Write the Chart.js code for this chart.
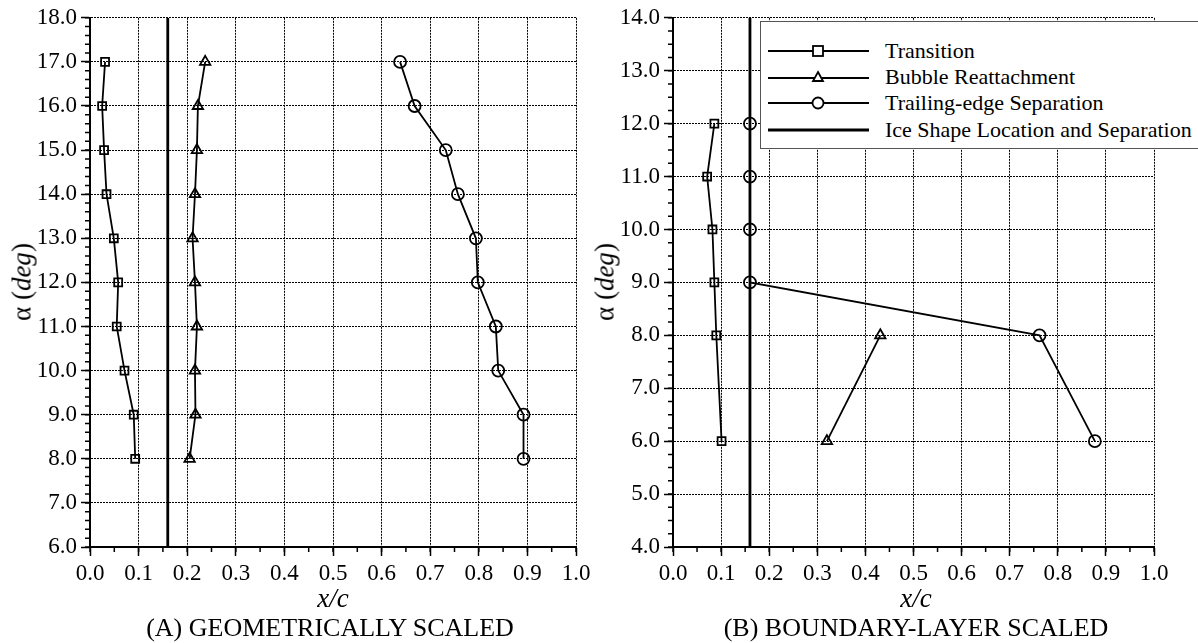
<!DOCTYPE html>
<html>
<head>
<meta charset="utf-8">
<script src="https://cdn.jsdelivr.net/npm/chart.js"></script>
<style>
  body { margin: 0; background: #fff; }
  #wrap { position: relative; width: 1198px; height: 643px; overflow: hidden; font-family: "Liberation Serif", "Times New Roman", serif; color: #000; }
  .pane { position: absolute; top: 0; height: 643px; }
  .ytitle { position: absolute; font-size: 27px; white-space: nowrap; transform: translate(-50%, -50%) rotate(-90deg); }
  .xtitle { position: absolute; font-size: 27px; font-style: italic; transform: translate(-50%, -50%); white-space: nowrap; }
  .caption { position: absolute; font-size: 26px; transform: translate(-50%, -50%); white-space: nowrap; }
  #legend { position: absolute; left: 760px; top: 21px; width: 520px; height: 126px; background: #fff; border: 1px solid #555; border-right: none; }
  .row { position: absolute; left: 7px; height: 20px; display: flex; align-items: center; font-size: 22px; white-space: nowrap; }
  .row svg { margin-right: 16px; }
</style>
</head>
<body>
<div id="wrap">
  <div class="pane" style="left:0;width:595px"><canvas id="chartA"></canvas></div>
  <div class="pane" style="left:595px;width:603px"><canvas id="chartB"></canvas></div>

  <div class="ytitle" style="left:22px;top:282px">α (<i>deg</i>)</div>
  <div class="ytitle" style="left:605px;top:282px">α (<i>deg</i>)</div>
  <div class="xtitle" style="left:333px;top:598px">x/c</div>
  <div class="xtitle" style="left:916px;top:598px">x/c</div>
  <div class="caption" style="left:330px;top:628px">(A) GEOMETRICALLY SCALED</div>
  <div class="caption" style="left:916px;top:628px">(B) BOUNDARY-LAYER SCALED</div>

  <div id="legend">
    <div class="row" style="top:19px">
      <svg width="101" height="14"><line x1="0" y1="7" x2="101" y2="7" stroke="#000" stroke-width="1.8"/><rect x="45" y="2" width="10" height="10" fill="#fff" stroke="#000" stroke-width="1.8"/></svg>Transition</div>
    <div class="row" style="top:45px">
      <svg width="101" height="14"><line x1="0" y1="8" x2="101" y2="8" stroke="#000" stroke-width="1.8"/><polygon points="50,2 55,11 45,11" fill="#fff" stroke="#000" stroke-width="1.8"/></svg>Bubble Reattachment</div>
    <div class="row" style="top:71px">
      <svg width="101" height="14"><line x1="0" y1="7" x2="101" y2="7" stroke="#000" stroke-width="1.8"/><circle cx="50" cy="7" r="5.5" fill="#fff" stroke="#000" stroke-width="1.8"/></svg>Trailing-edge Separation</div>
    <div class="row" style="top:98px">
      <svg width="101" height="14"><line x1="0" y1="7" x2="101" y2="7" stroke="#000" stroke-width="2.8"/></svg>Ice Shape Location and Separation</div>
  </div>
</div>

<script>
// (A) geometrically scaled
var angleA = [8, 9, 10, 11, 12, 13, 14, 15, 16, 17];
var transA = [0.093, 0.090, 0.071, 0.055, 0.058, 0.049, 0.034, 0.029, 0.025, 0.031];
var reattA = [0.205, 0.217, 0.216, 0.220, 0.216, 0.211, 0.216, 0.220, 0.222, 0.237];
var sepA   = [0.892, 0.892, 0.840, 0.835, 0.798, 0.794, 0.757, 0.732, 0.668, 0.638];

// (B) boundary-layer scaled
var angleTransB = [6, 8, 9, 10, 11, 12];
var transB      = [0.101, 0.090, 0.086, 0.082, 0.071, 0.086];
var angleReattB = [6, 8];
var reattB      = [0.320, 0.431];
var angleSepB   = [6, 8, 9, 10, 11, 12];
var sepB        = [0.877, 0.762, 0.16, 0.16, 0.16, 0.16];

var iceLoc = 0.16;
var xRange = [0, 1];
var yRangeA = [6, 18];
var yRangeB = [4, 14];

Chart.defaults.font.family = "'Liberation Serif', 'Times New Roman', serif";
Chart.defaults.color = '#000';

function pts(xs, ys) {
  return xs.map(function (v, i) { return { x: v, y: ys[i] }; });
}

function series(xs, ys, style) {
  return {
    data: pts(xs, ys),
    showLine: true,
    borderColor: '#000',
    borderWidth: 1.8,
    pointStyle: style,
    pointRadius: style == 'rect' ? 5.6 : 6,
    pointBorderWidth: 1.8,
    pointBorderColor: '#000',
    pointBackgroundColor: 'rgba(0,0,0,0)',
    tension: 0
  };
}

function iceLine(yr) {
  return {
    data: [{ x: iceLoc, y: yr[0] }, { x: iceLoc, y: yr[1] }],
    showLine: true,
    borderColor: '#000',
    borderWidth: 2.8,
    pointRadius: 0
  };
}

// short outward minor ticks, placed with the chart's own scales
var minorTicks = {
  id: 'minorTicks',
  afterDraw: function (chart, args, opts) {
    var ctx = chart.ctx, a = chart.chartArea;
    var xs = chart.scales.x, ys = chart.scales.y;
    ctx.save();
    ctx.strokeStyle = '#000';
    ctx.lineWidth = 1.5;
    ctx.beginPath();
    for (var v = xs.min; v <= xs.max + 1e-9; v += opts.x) {
      var px = xs.getPixelForValue(v);
      ctx.moveTo(px, a.bottom);
      ctx.lineTo(px, a.bottom + 5);
    }
    for (var w = ys.min; w <= ys.max + 1e-9; w += opts.y) {
      var py = ys.getPixelForValue(w);
      ctx.moveTo(a.left - 5, py);
      ctx.lineTo(a.left, py);
    }
    ctx.stroke();
    ctx.restore();
  }
};

function scales(yr, yWidth) {
  var grid = {
    color: '#000',
    lineWidth: 1,
    tickLength: 9,
    tickColor: '#000',
    tickWidth: 1.5,
    tickBorderDash: []
  };
  return {
    x: {
      type: 'linear', min: xRange[0], max: xRange[1],
      grid: grid,
      border: { display: true, color: '#000', width: 2, dash: [2, 1] },
      ticks: { stepSize: 0.1, autoSkip: false, maxRotation: 0, padding: 4,
               font: { size: 23 }, callback: function (v) { return v.toFixed(1); } },
      afterFit: function (s) { s.height = 96; }
    },
    y: {
      type: 'linear', min: yr[0], max: yr[1],
      grid: grid,
      border: { display: true, color: '#000', width: 2, dash: [2, 1] },
      ticks: { stepSize: 1, autoSkip: false, padding: 4,
               font: { size: 23 }, callback: function (v) { return v.toFixed(1); } },
      afterFit: function (s) { s.width = yWidth; }
    }
  };
}

new Chart('chartA', {
  type: 'scatter',
  data: {
    datasets: [
      iceLine(yRangeA),
      series(transA, angleA, 'rect'),
      series(reattA, angleA, 'triangle'),
      series(sepA, angleA, 'circle')
    ]
  },
  options: {
    responsive: true,
    maintainAspectRatio: false,
    animation: false,
    layout: { padding: { left: 0, top: 16, right: 19, bottom: 0 } },
    scales: scales(yRangeA, 90),
    plugins: { legend: { display: false }, tooltip: { enabled: false }, minorTicks: { x: 0.05, y: 0.2 } }
  },
  plugins: [minorTicks]
});

new Chart('chartB', {
  type: 'scatter',
  data: {
    datasets: [
      iceLine(yRangeB),
      series(transB, angleTransB, 'rect'),
      series(reattB, angleReattB, 'triangle'),
      series(sepB, angleSepB, 'circle')
    ]
  },
  options: {
    responsive: true,
    maintainAspectRatio: false,
    animation: false,
    layout: { padding: { left: 0, top: 16, right: 44, bottom: 0 } },
    scales: scales(yRangeB, 78),
    plugins: { legend: { display: false }, tooltip: { enabled: false }, minorTicks: { x: 0.05, y: 0.25 } }
  },
  plugins: [minorTicks]
});
</script>
</body>
</html>
